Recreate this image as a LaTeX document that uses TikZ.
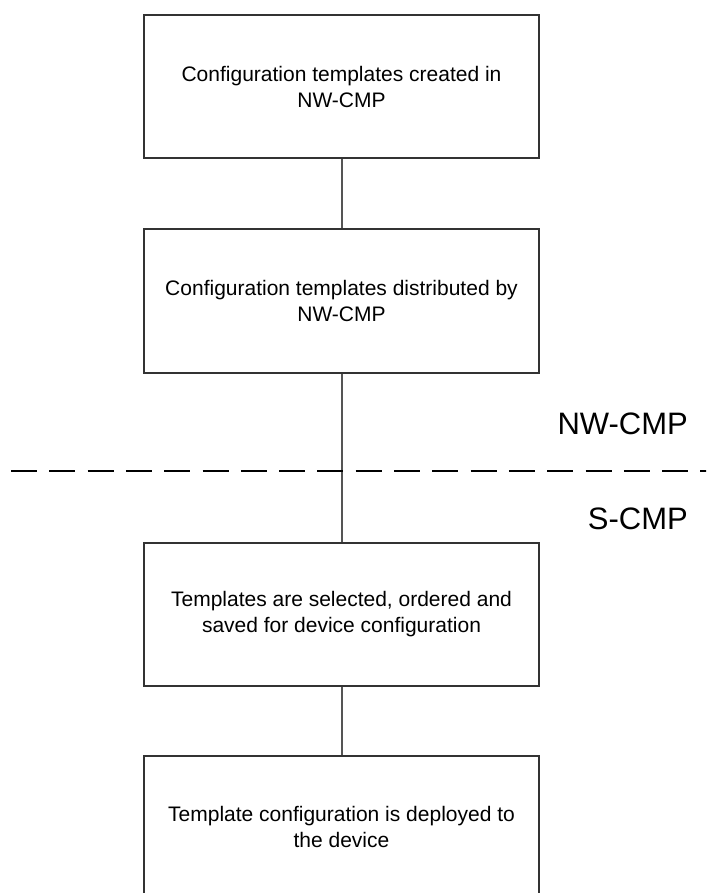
\documentclass[tikz,border=0pt]{standalone}
\usepackage{fontspec}
\setmainfont{Liberation Sans}
\usepackage{tikz}
\usepackage{xcolor}
\usetikzlibrary{positioning}
\definecolor{boxline}{RGB}{51, 51, 51}
\definecolor{linkline}{RGB}{85, 85, 85}
\tikzstyle{link} = [
    line width=2pt,
    draw=linkline
]
\tikzstyle{stepbox} = [
    rectangle,
    minimum width=395pt,
    minimum height=143pt,
    text centered,
    align=center,
    line width=2pt,
    draw=boxline,
    fill=white,
    font=\fontsize{21}{26}\selectfont
]
\tikzstyle{sidelabel} = [
    anchor=east,
    inner sep=0pt,
    font=\fontsize{31}{36}\selectfont
]

\begin{document}
\begin{tikzpicture}[x=1pt, y=-1pt, node distance=70pt]
    \clip (0,0) rectangle (706,893);
    \useasboundingbox (0,0) rectangle (706,893);

    % network side
    \node[stepbox] (created) at (341.5,87) {Configuration templates created in\\NW-CMP};
    \node[stepbox, below=69pt of created] (distributed) {Configuration templates distributed by\\NW-CMP};

    % service side
    \node[stepbox, below=168pt of distributed] (selected) {Templates are selected, ordered and\\saved for device configuration};
    \node[stepbox, below=68pt of selected] (deployed) {Template configuration is deployed to\\the device};

    \draw[link] (created) -- (distributed);
    \draw[link] (distributed) -- (selected);
    \draw[link] (selected) -- (deployed);

    % boundary between the two systems
    \coordinate (sepL) at (11,471);
    \coordinate (sepR) at (720,471);
    \draw[line width=2.8pt, dash pattern=on 26pt off 12.3pt] (sepL) -- (sepR);
    \node[sidelabel] (nwcmp) at (688,423.5) {NW-CMP};
    \node[sidelabel] (scmp) at (688,519) {S-CMP};
\end{tikzpicture}
\end{document}
